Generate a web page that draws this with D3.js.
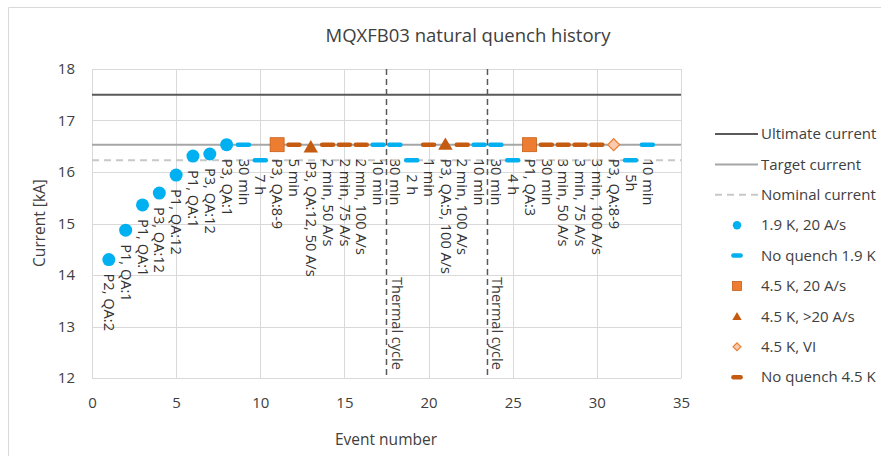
<html lang="en">
  <head>
    <title>MQXFB03 natural quench history</title>
    <script src="https://d3js.org/d3.v7.min.js"></script>
    <style>
      body { margin: 0; background: white; }
      text { font-family: "Open Sans", "Noto Sans", sans-serif; fill: #404040; }
    </style>
  </head>
  <body>
  <script>

  var w = 881;
  var h = 456;

  // events, values, marker type and data label
  var eventNo = [1, 2, 3, 4, 5, 6, 7, 8, 9, 10, 11, 12, 13, 14, 15, 16, 17,
                 18, 19, 20, 21, 22, 23, 24, 25, 26, 27, 28, 29, 30, 31, 32, 33];
  var current = [14.30, 14.87, 15.36, 15.59, 15.94, 16.31, 16.35, 16.53,
                 16.53, 16.23, 16.53, 16.53, 16.48, 16.53, 16.53, 16.53, 16.53,
                 16.53, 16.23, 16.53, 16.53, 16.53, 16.53, 16.53, 16.23, 16.53,
                 16.53, 16.53, 16.53, 16.53, 16.53, 16.23, 16.53];
  var kind = ["c19", "c19", "c19", "c19", "c19", "c19", "c19", "c19",
              "n19", "n19", "s45", "n45", "t45", "n45", "n45", "n45", "n19",
              "n19", "n19", "n45", "t45", "n45", "n19", "n19", "n19", "s45",
              "n45", "n45", "n45", "n45", "d45", "n19", "n19"];
  var labels = ["P2, QA:2", "P1, QA:1", "P1, QA:1", "P3, QA:12", "P1, QA:12",
                "P1, QA:1", "P3, QA:12", "P3, QA:1", "30 min", "7 h", "P3, QA:8-9",
                "5 min", "P3, QA:12, 50 A/s", "2 min, 50 A/s", "2 min, 75 A/s",
                "2 min, 100 A/s", "10 min", "30 min", "2 h", "1 min",
                "P3, QA:5, 100 A/s", "2 min, 100 A/s", "10 min", "30 min", "4 h",
                "P1, QA:3", "30 min", "3 min, 50 A/s", "3 min, 75 A/s",
                "3 min, 100 A/s", "P3, QA:8-9", "5h", "10 min"];

  var thermalCycles = [17.5, 23.5];
  var refLines = [
    {name: "Ultimate current", value: 17.5, color: "#595959", dash: null},
    {name: "Target current", value: 16.53, color: "#A6A6A6", dash: null},
    {name: "Nominal current", value: 16.23, color: "#C8C8C8", dash: "7,5"}
  ];
  var legendMarks = [
    {key: "c19", name: "1.9 K, 20 A/s"},
    {key: "n19", name: "No quench 1.9 K"},
    {key: "s45", name: "4.5 K, 20 A/s"},
    {key: "t45", name: "4.5 K, >20 A/s"},
    {key: "d45", name: "4.5 K, VI"},
    {key: "n45", name: "No quench 4.5 K"}
  ];
  var xTicks = [0, 5, 10, 15, 20, 25, 30, 35];
  var yTicks = [12, 13, 14, 15, 16, 17, 18];

  var data = eventNo.map((e, i) => ({ev: e, val: current[i], kind: kind[i], label: labels[i]}));

  var xScale = d3.scaleLinear().domain([0, 35]).range([92, 681]);
  var yScale = d3.scaleLinear().domain([12, 18]).range([378, 69]);

  var svg = d3.select("body")
    .append("svg")
      .attr("width", w)
      .attr("height", h);

  svg.append("rect")
    .attr("x", 0).attr("y", 0)
    .attr("width", w).attr("height", h)
    .attr("fill", "white");

  // chart frame
  svg.append("path")
    .attr("d", "M8.5," + (h + 5) + "V7.5H" + (w + 5))
    .attr("fill", "none")
    .attr("stroke", "#D9D9D9");

  // title
  svg.append("text")
    .attr("x", 468)
    .attr("y", 42)
    .attr("text-anchor", "middle")
    .style("font-size", "18.5px")
    .text("MQXFB03 natural quench history");

  // grid
  var grid = svg.append("g");
  grid.selectAll("line.gx")
    .data(xTicks)
    .enter().append("line")
      .attr("class", "gx")
      .attr("x1", d => Math.round(xScale(d)) + 0.5)
      .attr("x2", d => Math.round(xScale(d)) + 0.5)
      .attr("y1", yScale(18))
      .attr("y2", yScale(12))
      .attr("stroke", "#D9D9D9");
  grid.selectAll("line.gy")
    .data(yTicks)
    .enter().append("line")
      .attr("class", "gy")
      .attr("x1", xScale(0))
      .attr("x2", xScale(35))
      .attr("y1", d => Math.round(yScale(d)) + 0.5)
      .attr("y2", d => Math.round(yScale(d)) + 0.5)
      .attr("stroke", "#D9D9D9");

  // axes
  var xAxis = d3.axisBottom(xScale).tickValues(xTicks).tickSize(0).tickPadding(19);
  var yAxis = d3.axisLeft(yScale).tickValues(yTicks).tickSize(0).tickPadding(17)
      .tickFormat(d3.format("d"));

  svg.append("g")
      .attr("class", "xAxis")
      .attr("transform", "translate(0, 378)")
      .call(xAxis)
      .call(g => g.select(".domain").attr("stroke", "#D9D9D9"));
  svg.append("g")
      .attr("class", "yAxis")
      .attr("transform", "translate(92, 0)")
      .call(yAxis)
      .call(g => g.select(".domain").attr("stroke", "#D9D9D9"));
  svg.selectAll(".xAxis text, .yAxis text")
      .style("font-size", "15px")
      .style("font-family", "Open Sans")
      .attr("fill", "#404040");

  svg.append("text")
    .attr("x", 386)
    .attr("y", 445)
    .attr("text-anchor", "middle")
    .style("font-size", "15.5px")
    .text("Event number");

  svg.append("text")
    .attr("transform", "translate(45, 223) rotate(-90)")
    .attr("text-anchor", "middle")
    .style("font-size", "15.5px")
    .text("Current [kA]");

  // reference lines
  svg.append("g").selectAll("line")
    .data(refLines)
    .enter().append("line")
      .attr("x1", xScale(0))
      .attr("x2", xScale(35))
      .attr("y1", d => yScale(d.value))
      .attr("y2", d => yScale(d.value))
      .attr("stroke", d => d.color)
      .attr("stroke-width", 2)
      .attr("stroke-dasharray", d => d.dash);

  // thermal cycles
  var tc = svg.append("g");
  tc.selectAll("line")
    .data(thermalCycles)
    .enter().append("line")
      .attr("x1", d => xScale(d))
      .attr("x2", d => xScale(d))
      .attr("y1", yScale(18))
      .attr("y2", yScale(12))
      .attr("stroke", "#595959")
      .attr("stroke-width", 1.5)
      .attr("stroke-dasharray", "6,4");
  tc.selectAll("text")
    .data(thermalCycles)
    .enter().append("text")
      .attr("transform", d => `translate(${xScale(d) + 5}, 277) rotate(90)`)
      .style("font-size", "14.5px")
      .text("Thermal cycle");

  // markers
  function drawMarker(g, k, size) {
    var s = size || 1;
    if (k == "c19") {
      g.append("circle").attr("r", 6.5 * s).attr("fill", "#00B0F0");
    } else if (k == "n19" || k == "n45") {
      g.append("line")
        .attr("x1", -5.5 * s).attr("x2", 5.5 * s)
        .attr("stroke", k == "n19" ? "#00B0F0" : "#C55A11")
        .attr("stroke-width", 4.5)
        .attr("stroke-linecap", "round");
    } else if (k == "s45") {
      g.append("rect")
        .attr("x", -7 * s).attr("y", -7 * s)
        .attr("width", 14 * s).attr("height", 14 * s)
        .attr("fill", "#ED7D31")
        .attr("stroke", "#C55A11").attr("stroke-width", 0.75);
    } else if (k == "t45") {
      g.append("path")
        .attr("d", d3.symbol(d3.symbolTriangle, 90 * s * s)())
        .attr("transform", "translate(0,1)")
        .attr("fill", "#C55A11");
    } else if (k == "d45") {
      g.append("path")
        .attr("d", `M0,${-6 * s}L${6 * s},0L0,${6 * s}L${-6 * s},0Z`)
        .attr("fill", "#F8CBAD")
        .attr("stroke", "#ED7D31")
        .attr("stroke-width", 1.2);
    }
  }

  var pts = svg.append("g").selectAll("g")
    .data(data)
    .enter().append("g")
      .attr("transform", d => `translate(${xScale(d.ev)}, ${yScale(d.val)})`);
  pts.each(function(d) { drawMarker(d3.select(this), d.kind); });

  // data labels
  svg.append("g").selectAll("text")
    .data(data)
    .enter().append("text")
      .attr("transform", d => `translate(${xScale(d.ev)}, ${yScale(d.val) + 14}) rotate(90)`)
      .attr("dy", "0.33em")
      .style("font-size", "14.6px")
      .style("fill", "#333")
      .text(d => d.label);

  // legend
  var legY0 = 134, legStep = 30.4;
  var leg = svg.append("g");
  refLines.forEach(function(d, i) {
    var y = legY0 + i * legStep;
    leg.append("line")
      .attr("x1", 715).attr("x2", 758)
      .attr("y1", y).attr("y2", y)
      .attr("stroke", d.color)
      .attr("stroke-width", 2)
      .attr("stroke-dasharray", d.dash);
    leg.append("text")
      .attr("x", 761).attr("y", y)
      .attr("dy", "0.35em")
      .style("font-size", "15px")
      .text(d.name);
  });
  legendMarks.forEach(function(d, i) {
    var y = legY0 + (i + 3) * legStep;
    var g = leg.append("g").attr("transform", `translate(737, ${y})`);
    drawMarker(g, d.key, 0.65);
    leg.append("text")
      .attr("x", 761).attr("y", y)
      .attr("dy", "0.35em")
      .style("font-size", "15px")
      .text(d.name);
  });

  </script>
  </body>
</html>
